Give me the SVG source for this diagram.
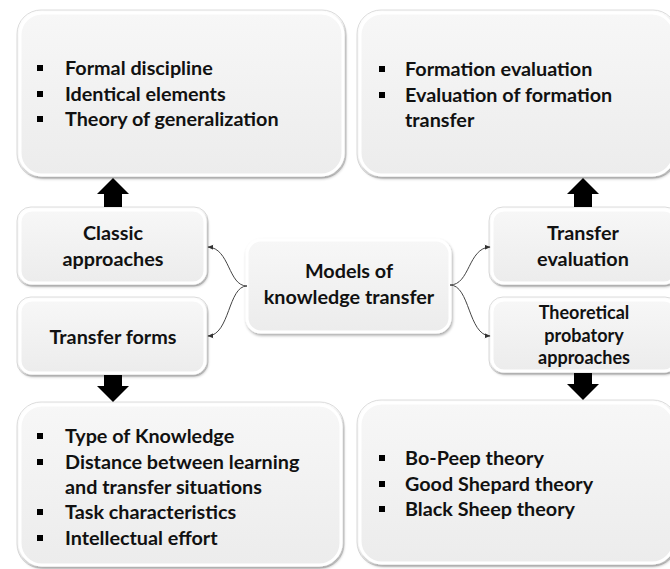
<svg xmlns="http://www.w3.org/2000/svg" width="670" height="569" viewBox="0 0 670 569">
<defs>
<linearGradient id="g" x1="0" y1="0" x2="0" y2="1"><stop offset="0" stop-color="#f7f7f7"/><stop offset="1" stop-color="#ececec"/></linearGradient>
<filter id="sh" x="-10%" y="-10%" width="120%" height="130%"><feDropShadow dx="1" dy="2" stdDeviation="1.5" flood-color="#000" flood-opacity="0.35"/></filter>
<marker id="ah" viewBox="0 0 10 10" refX="9" refY="5" markerWidth="6" markerHeight="6" orient="auto"><path d="M0,1 L10,5 L0,9 Z" fill="#333"/></marker>
</defs>
<style>
.box{fill:url(#g);stroke:#ffffff;stroke-width:3;filter:url(#sh)}
.out{fill:none;stroke:#dcdcdc;stroke-width:1}
text{font-family:Lato,"Liberation Sans",sans-serif;font-weight:bold;font-size:19.8px;fill:#111}
.c{text-anchor:middle}
.sm{font-size:18px}
.blk{fill:#000}
.con{fill:none;stroke:#444;stroke-width:1;marker-end:url(#ah)}
</style>
<g id="n-classic-list">
<rect class="out" x="17" y="10" width="329" height="168" rx="24"/>
<rect class="box" x="20" y="13" width="323" height="162" rx="22"/>
<rect class="blk" x="37" y="65" width="6" height="6"/><text x="65" y="75">Formal discipline</text>
<rect class="blk" x="37" y="91" width="6" height="6"/><text x="65" y="101">Identical elements</text>
<rect class="blk" x="37" y="116" width="6" height="6"/><text x="65" y="126">Theory of generalization</text>
</g>
<g id="n-eval-list">
<rect class="out" x="357" y="10" width="320" height="168" rx="24"/>
<rect class="box" x="360" y="13" width="314" height="162" rx="22"/>
<rect class="blk" x="379" y="66" width="6" height="6"/><text x="405" y="76">Formation evaluation</text>
<rect class="blk" x="379" y="92" width="6" height="6"/><text x="405" y="102">Evaluation of formation</text>
<text x="405" y="127">transfer</text>
</g>
<g id="n-classic">
<rect class="out" x="17" y="207" width="191" height="79" rx="14"/>
<rect class="box" x="20" y="210" width="185" height="73" rx="12"/>
<text class="c" x="113" y="240">Classic</text>
<text class="c" x="113" y="266">approaches</text>
</g>
<g id="n-forms">
<rect class="out" x="17" y="297" width="191" height="79" rx="14"/>
<rect class="box" x="20" y="300" width="185" height="73" rx="12"/>
<text class="c" x="113" y="344">Transfer forms</text>
</g>
<g id="n-center">
<rect class="box" x="247" y="240" width="203" height="92" rx="14" stroke="none"/>
<text class="c" x="349" y="278">Models of</text>
<text class="c" x="349" y="304">knowledge transfer</text>
</g>
<g id="n-eval">
<rect class="out" x="489" y="207" width="190" height="79" rx="14"/>
<rect class="box" x="492" y="210" width="184" height="73" rx="12"/>
<text class="c" x="583" y="240">Transfer</text>
<text class="c" x="583" y="266">evaluation</text>
</g>
<g id="n-theor">
<rect class="out" x="489" y="297" width="190" height="77" rx="14"/>
<rect class="box" x="492" y="300" width="184" height="71" rx="12"/>
<text class="c sm" x="584" y="319">Theoretical</text>
<text class="c sm" x="584" y="342">probatory</text>
<text class="c sm" x="584" y="364">approaches</text>
</g>
<g id="n-forms-list">
<rect class="out" x="17" y="402" width="327" height="166" rx="24"/>
<rect class="box" x="20" y="405" width="321" height="160" rx="22"/>
<rect class="blk" x="37" y="433" width="6" height="6"/><text x="65" y="443">Type of Knowledge</text>
<rect class="blk" x="37" y="459" width="6" height="6"/><text x="65" y="469">Distance between learning</text>
<text x="65" y="494">and transfer situations</text>
<rect class="blk" x="37" y="509" width="6" height="6"/><text x="65" y="519">Task characteristics</text>
<rect class="blk" x="37" y="535" width="6" height="6"/><text x="65" y="545">Intellectual effort</text>
</g>
<g id="n-theor-list">
<rect class="out" x="357" y="400" width="320" height="166" rx="24"/>
<rect class="box" x="360" y="403" width="314" height="160" rx="22"/>
<rect class="blk" x="379" y="455" width="6" height="6"/><text x="405" y="465">Bo-Peep theory</text>
<rect class="blk" x="379" y="481" width="6" height="6"/><text x="405" y="491">Good Shepard theory</text>
<rect class="blk" x="379" y="506" width="6" height="6"/><text x="405" y="516">Black Sheep theory</text>
</g>
<g id="connectors">
<path class="con" d="M247,286 C228,286 230,248 208,247"/>
<path class="con" d="M247,286 C228,286 230,335 208,336"/>
<path class="con" d="M450,285 C470,285 468,248 490,247"/>
<path class="con" d="M450,285 C470,285 468,335 490,336"/>
<path class="blk" d="M113,178 L129,194 L122,194 L122,207 L104,207 L104,194 L97,194 Z"/>
<path class="blk" d="M583,178 L599,194 L592,194 L592,207 L574,207 L574,194 L567,194 Z"/>
<path class="blk" d="M113,402 L129,386 L122,386 L122,375 L104,375 L104,386 L97,386 Z"/>
<path class="blk" d="M583,400 L599,384 L592,384 L592,373 L574,373 L574,384 L567,384 Z"/>
</g>
</svg>
